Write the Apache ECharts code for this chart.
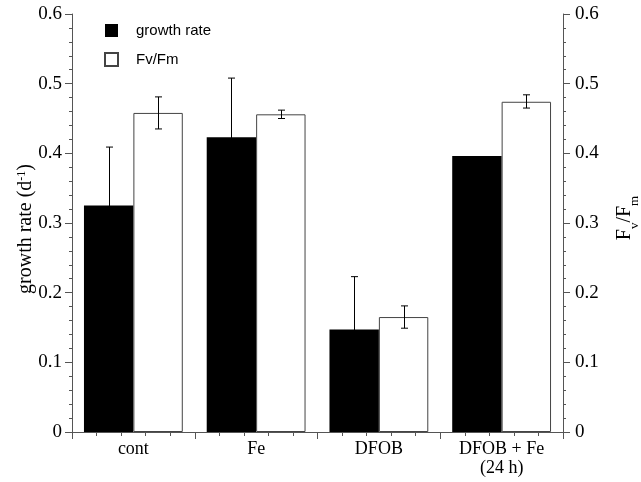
<!DOCTYPE html>
<html><head><meta charset="utf-8">
<script src="https://cdn.jsdelivr.net/npm/echarts@6/dist/echarts.min.js"></script>
<style>html,body{margin:0;padding:0;background:#fff}#c{width:641px;height:482px}</style>
</head><body><div id="c"></div>
<script>
const categories = ['cont', 'Fe', 'DFOB', 'DFOB + Fe\n(24 h)'];
const growthRate = [0.325, 0.423, 0.147, 0.396];
const growthErrHigh = [0.409, 0.508, 0.223, null];
const growthErrLow = [0.241, 0.338, 0.071, null];
const fvfm = [0.458, 0.456, 0.165, 0.474];
const fvfmErrHigh = [0.481, 0.462, 0.181, 0.484];
const fvfmErrLow = [0.435, 0.450, 0.149, 0.465];
const seriesNames = ['growth rate', 'Fv/Fm'];

const SERIF = 'Liberation Serif';
const SANS = 'Liberation Sans';
const AXIS_COLOR = '#555';
const CAT_GAP = 0.195;

function errData(hi, lo) {
  const out = [];
  hi.forEach((h, i) => { if (h != null) out.push([i, h, lo[i]]); });
  return out;
}
function errRenderer(side) {
  return function (params, api) {
    const i = api.value(0), hi = api.value(1), lo = api.value(2);
    const band = api.size([1, 0])[0];
    const bw = band * (1 - CAT_GAP) / 2;
    const ch = api.coord([i, hi]);
    const cl = api.coord([i, lo]);
    const x = Math.round(ch[0] + side * bw / 2) + 0.5;
    const cap = 3.5;
    const st = { stroke: '#000', lineWidth: 1 };
    return { type: 'group', children: [
      { type: 'line', shape: { x1: x, y1: ch[1], x2: x, y2: cl[1] }, style: st },
      { type: 'line', shape: { x1: x - cap, y1: ch[1], x2: x + cap, y2: ch[1] }, style: st },
      { type: 'line', shape: { x1: x - cap, y1: cl[1], x2: x + cap, y2: cl[1] }, style: st }
    ]};
  };
}

const yAxisCommon = {
  type: 'value', min: 0, max: 0.6, interval: 0.1,
  axisLine: { show: true, lineStyle: { color: AXIS_COLOR, width: 1 } },
  axisTick: { show: true, length: 7, lineStyle: { color: AXIS_COLOR } },
  minorTick: { show: true, splitNumber: 5, length: 3, lineStyle: { color: AXIS_COLOR } },
  splitLine: { show: false },
  axisLabel: { fontFamily: SERIF, fontSize: 19, color: '#000', margin: 10 }
};

const chart = echarts.init(document.getElementById('c'));
chart.setOption({
  animation: false,
  backgroundColor: '#fff',
  grid: { left: 72, right: 78, top: 14, bottom: 50 },
  legend: {
    data: seriesNames, orient: 'vertical', left: 99, top: 18,
    itemWidth: 13, itemHeight: 13, itemGap: 14, icon: 'rect',
    textStyle: { fontFamily: SANS, fontSize: 15, color: '#000', padding: [0, 0, 0, 13] }
  },
  xAxis: [
    {
      type: 'category', data: categories, position: 'bottom',
      axisLine: { lineStyle: { color: AXIS_COLOR } },
      axisTick: { show: false },
      axisLabel: { fontFamily: SERIF, fontSize: 18, color: '#000', margin: 8, lineHeight: 19 }
    },
    {
      type: 'value', min: 0, max: 4, interval: 1, position: 'bottom',
      axisLine: { show: false },
      axisTick: { show: true, length: 7, lineStyle: { color: AXIS_COLOR } },
      minorTick: { show: true, splitNumber: 5, length: 4, lineStyle: { color: AXIS_COLOR } },
      axisLabel: { show: false }, splitLine: { show: false }
    }
  ],
  yAxis: [
    Object.assign({}, yAxisCommon, { position: 'left' }),
    Object.assign({}, yAxisCommon, { position: 'right', axisLabel: Object.assign({}, yAxisCommon.axisLabel, { margin: 12 }) })
  ],
  graphic: [{
    type: 'text', x: 26, y: 229, rotation: Math.PI / 2,
    style: {
      text: 'growth rate (d{sup|-1})', align: 'center', verticalAlign: 'middle',
      fontFamily: SERIF, fontSize: 20, fill: '#000',
      rich: {
        sup: { fontFamily: SERIF, fontSize: 12, lineHeight: 12, verticalAlign: 'top', fill: '#000' }
      }
    }
  }, {
    type: 'text', x: 628, y: 218, rotation: Math.PI / 2,
    style: {
      text: '{a|F}{s|v}{a|/F}{s|m}', align: 'center', verticalAlign: 'middle',
      rich: {
        a: { fontFamily: SERIF, fontSize: 20, lineHeight: 26, verticalAlign: 'top', fill: '#000' },
        s: { fontFamily: SERIF, fontSize: 13, lineHeight: 13, verticalAlign: 'bottom', fill: '#000' }
      }
    }
  }],
  series: [
    { type: 'bar', name: seriesNames[0], data: growthRate, barGap: '0%', barCategoryGap: (CAT_GAP * 100) + '%',
      itemStyle: { color: '#000' } },
    { type: 'bar', name: seriesNames[1], data: fvfm, yAxisIndex: 1,
      itemStyle: { color: '#fff', borderColor: '#444', borderWidth: 1 } },
    { type: 'custom', data: errData(growthErrHigh, growthErrLow), renderItem: errRenderer(-1), z: 5,
      encode: { x: 0, y: [1, 2] } },
    { type: 'custom', data: errData(fvfmErrHigh, fvfmErrLow), yAxisIndex: 1, renderItem: errRenderer(1), z: 5,
      encode: { x: 0, y: [1, 2] } }
  ]
});
</script>
</body></html>
